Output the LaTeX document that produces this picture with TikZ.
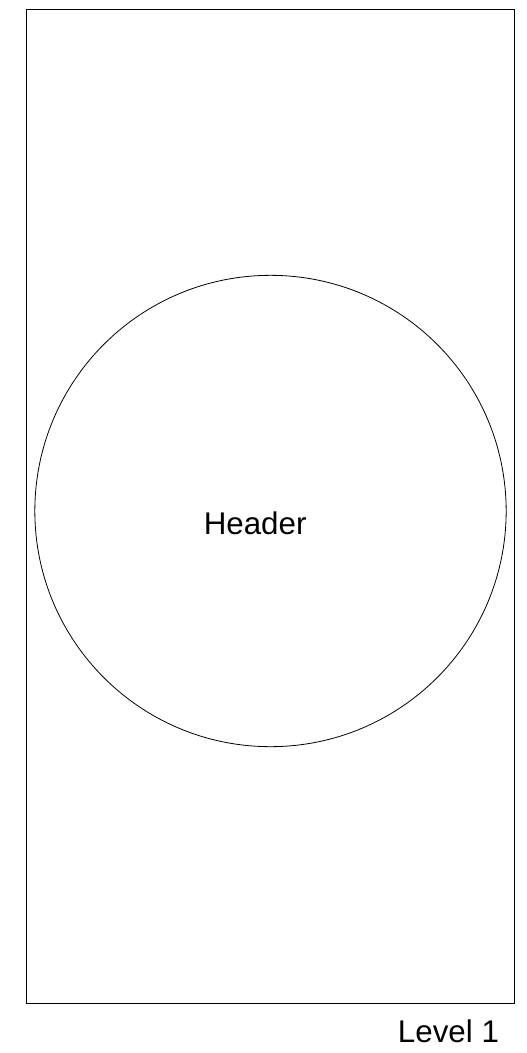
\documentclass[tikz,border=0pt]{standalone}
\usepackage{fontspec}
\setmainfont{Liberation Sans}
\begin{document}
\begin{tikzpicture}[x=0.75pt,y=-0.75pt,
  frame/.style={draw=black,line width=0.75pt},
  ring/.style={draw=black,line width=0.6pt},
  lbl/.style={font=\fontsize{23.5pt}{28pt}\selectfont,inner sep=0pt,anchor=base west}]
\useasboundingbox (0,0) rectangle (526,1053);
\draw[frame] (26,9.5) rectangle (514,1003.5);
\node[ring,circle,minimum size=353.5pt,inner sep=0pt] (hdr) at (270.5,511) {};
\node[lbl] (htext) at (203.5,534) {Header};
\node[lbl] (lvl) at (397.7,1042) {Level 1};
\end{tikzpicture}
\end{document}
